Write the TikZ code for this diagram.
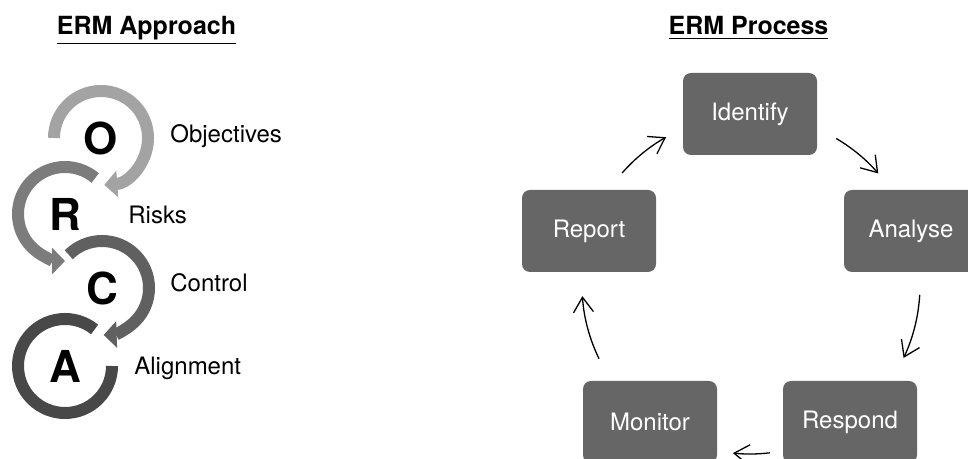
\documentclass[tikz,border=0pt]{standalone}
\usepackage{fontspec}
\setmainfont{TeX Gyre Heros}
\usetikzlibrary{arrows.meta}

\definecolor{ringo}{HTML}{A3A3A3}
\definecolor{ringr}{HTML}{7C7C7C}
\definecolor{ringc}{HTML}{606060}
\definecolor{ringa}{HTML}{484848}
\definecolor{stagefill}{HTML}{666666}

\begin{document}
\begin{tikzpicture}[x=0.5pt, y=0.5pt,
    title/.style={font=\fontsize{12.5}{14}\selectfont\bfseries, anchor=base},
    letter/.style={font=\fontsize{22}{24}\selectfont\bfseries},
    label/.style={font=\fontsize{12}{14}\selectfont, anchor=base west, inner sep=0pt},
    ring/.style={line width=6pt},
    ringtip/.style={-{Triangle[length=6.5pt,width=13pt]}},
    stage/.style={rectangle, rounded corners=4pt, fill=stagefill, text=white,
        minimum width=67pt, minimum height=41pt, font=\fontsize{12}{14}\selectfont},
    flow/.style={-{Straight Barb[length=7.5pt,width=10pt]}, line width=0.65pt}]

    \useasboundingbox (0,0) rectangle (968,459);

    % titles
    \node[title] (approach) at (146.5,424) {\underline{ERM Approach}};
    \node[title] (process)  at (748.5,424) {\underline{ERM Process}};

    % ORCA rings
    \node[letter] (o) at (101,321) {O};
    \node[letter] (r) at (65,245)  {R};
    \node[letter] (c) at (102,171) {C};
    \node[letter] (a) at (65,93)   {A};

    \draw[ring, ringo, ringtip] ([shift={(180:47)}]o.center) arc[start angle=180, end angle=-86, radius=47];
    \draw[ring, ringr, ringtip] ([shift={(50:47)}]r.center) arc[start angle=50, end angle=270, radius=47];
    \draw[ring, ringc, ringtip] ([shift={(135:47)}]c.center) arc[start angle=135, end angle=-88, radius=47];
    \draw[ring, ringa] ([shift={(51:47)}]a.center) arc[start angle=51, end angle=360, radius=47];

    \node[label] (objectives) at (170,316) {Objectives};
    \node[label] (risks)      at (128,235) {Risks};
    \node[label] (control)    at (170,167) {Control};
    \node[label] (alignment)  at (134,84)  {Alignment};

    % process cycle
    \node[stage] (identify) at (750,345) {Identify};
    \node[stage] (analyse)  at (911,228) {Analyse};
    \node[stage] (respond)  at (850,37)  {Respond};
    \node[stage] (monitor)  at (650,37)  {Monitor};
    \node[stage] (report)   at (589,228) {Report};

    % arrows run on a circle round the middle of the cycle
    \coordinate (hub) at (750,174);
    \draw[flow] ([shift={(59.5:170)}]hub) arc[start angle=59.5, end angle=41, radius=170];
    \draw[flow] ([shift={(-3.3:170)}]hub) arc[start angle=-3.3, end angle=-25.4, radius=170];
    \draw[flow] ([shift={(-83.2:169)}]hub) arc[start angle=-83.2, end angle=-95.8, radius=169];
    \draw[flow] ([shift={(206:168)}]hub) arc[start angle=206, end angle=183.8, radius=168];
    \draw[flow] ([shift={(138.8:170)}]hub) arc[start angle=138.8, end angle=119.6, radius=170];

\end{tikzpicture}
\end{document}
